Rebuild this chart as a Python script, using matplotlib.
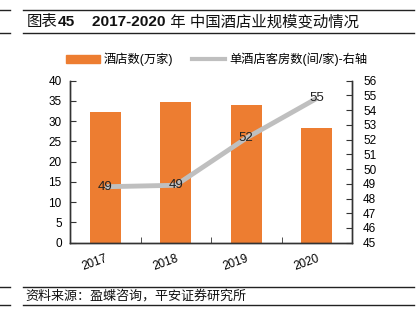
import matplotlib
matplotlib.use("Agg")
import matplotlib.pyplot as plt
from matplotlib.lines import Line2D
from matplotlib.patches import Patch
import numpy as np

plt.rcParams['font.family'] = ['Liberation Sans', 'Noto Sans CJK SC', 'DejaVu Sans']

years = ['2017', '2018', '2019', '2020']
hotels = [32.2, 34.8, 34.1, 28.3]           # 酒店数(万家)
rooms_per_hotel = [48.8, 48.9, 52.1, 54.8]   # 单酒店客房数(间/家)

# title pieces: (text, bold?)
title_parts = [('图表', False), ('45', True), ('    2017-2020', True),
               (' 年 中国酒店业规模变动情况', False)]
source_text = '资料来源：盈蝶咨询，平安证券研究所'
bar_label = '酒店数(万家)'
line_label = '单酒店客房数(间/家)-右轴'

ORANGE = '#ED7D31'
GREY = '#BFBFBF'

W, H = 420, 330
fig = plt.figure(figsize=(W / 100, H / 100), dpi=100)
ax = fig.add_axes([70 / W, 1 - 242.7 / H, 282 / W, 162 / H])
ax2 = ax.twinx()

x = np.arange(len(years))
ax.bar(x, hotels, width=0.44, color=ORANGE, zorder=2)
ax.set_xlim(-0.5, len(years) - 0.5)
ax.set_ylim(0, 40)
ax.set_yticks(np.arange(0, 41, 5))

ax2.plot(x, rooms_per_hotel, color=GREY, lw=3.5, solid_capstyle='butt', zorder=3)
ax2.set_ylim(45, 56)
ax2.set_yticks(np.arange(45, 57, 1))
for xi, v in zip(x, rooms_per_hotel):
    ax2.text(xi, v, f'{v:.0f}', ha='center', va='center', fontsize=9.5, color='#222222', zorder=4)

# axis styling
for a in (ax, ax2):
    a.spines['top'].set_visible(False)
    for s in ('left', 'right', 'bottom'):
        a.spines[s].set_color('#333333')
        a.spines[s].set_linewidth(1.0)

ax.set_xticks(x)
ax.set_xticklabels(years, rotation=20, ha='right', rotation_mode='anchor', fontsize=8.5)
ax.set_xticks([0.5, 1.5, 2.5], minor=True)
ax.tick_params(axis='x', which='major', length=0, pad=7)
ax.tick_params(axis='x', which='minor', direction='in', length=4, color='#333333')
ax.tick_params(axis='y', direction='in', length=4, labelsize=8.5, pad=6, color='#333333')
ax2.tick_params(axis='y', direction='in', length=4, labelsize=8.5, pad=8, color='#333333')

# legend
handles = [Patch(facecolor=ORANGE, edgecolor=ORANGE, label=bar_label),
           Line2D([0], [0], color=GREY, lw=3, label=line_label)]
fig.legend(handles=handles, loc='center left', bbox_to_anchor=(66 / W, 1 - 59.5 / H),
           ncol=2, frameon=False, fontsize=8.8, handlelength=2.75, handleheight=0.75,
           handletextpad=0.35, columnspacing=1.5, borderpad=0, borderaxespad=0)

# title, drawn piece by piece so only the Latin figures are bold
renderer = fig.canvas.get_renderer()
cur_x = 27
for txt, bold in title_parts:
    t = fig.text(cur_x / W, 1 - 22 / H, txt, fontsize=11.1,
                 fontweight='bold' if bold else 'normal',
                 ha='left', va='center', color='#111111')
    cur_x = t.get_window_extent(renderer).x1

for yy in (10, 33, 287, 305):
    fig.add_artist(Line2D([0, 10 / W], [1 - yy / H] * 2, color='#222222', lw=1.0))
    fig.add_artist(Line2D([23 / W, 414 / W], [1 - yy / H] * 2, color='#222222', lw=1.0))

fig.text(25 / W, 1 - 296.5 / H, source_text, fontsize=9.4, style='italic',
         ha='left', va='center', color='#111111')

fig.savefig('out.png', dpi=100)
